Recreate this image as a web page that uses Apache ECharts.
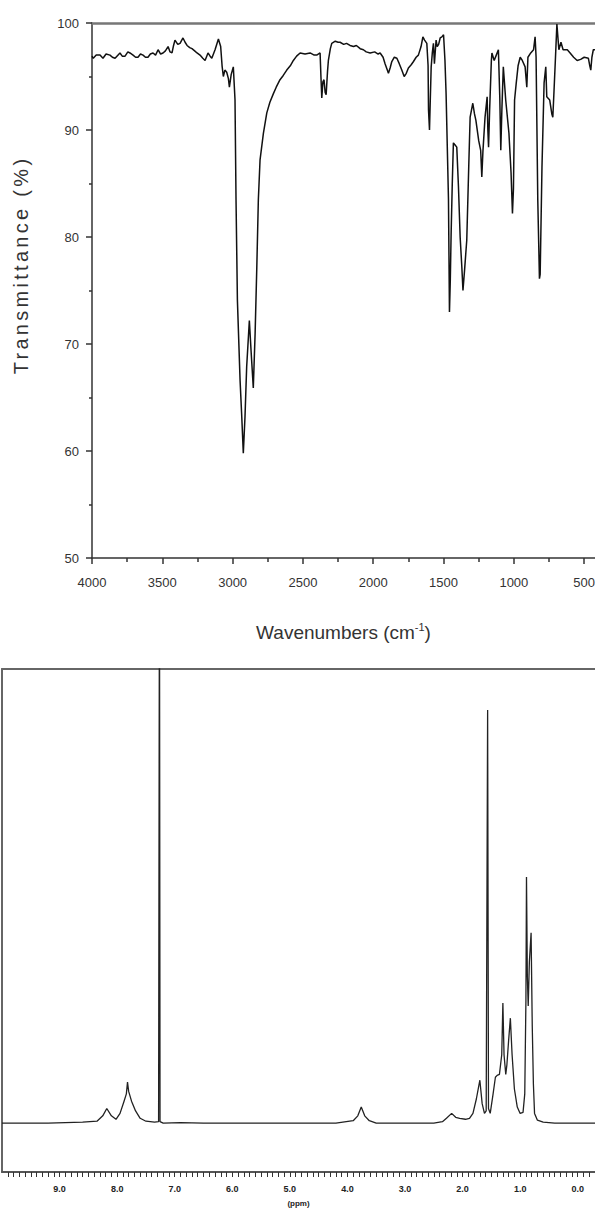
<!DOCTYPE html>
<html>
<head>
<meta charset="utf-8">
<script src="https://cdn.jsdelivr.net/npm/echarts@6/dist/echarts.min.js"></script>
<style>
html,body{margin:0;padding:0;background:#fff;}
#chart{width:595px;height:1210px;}
</style>
</head>
<body>
<div id="chart"></div>
<script>
// ---------- IR spectrum data ----------
const irWavenumbers = [4000,3991,3970,3943,3922,3900,3872,3855,3836,3801,3785,3765,3745,3730,3708,3690,3673,3655,3637,3620,3602,3585,3566,3548,3530,3512,3495,3478,3459,3445,3431,3420,3410,3390,3374,3353,3338,3324,3305,3289,3270,3253,3232,3212,3196,3175,3160,3148,3125,3101,3085,3075,3066,3055,3042,3030,3023,3010,2995,2983,2976,2966,2947,2935,2924,2912,2900,2881,2869,2853,2840,2828,2817,2805,2781,2757,2735,2710,2690,2663,2640,2615,2590,2568,2545,2520,2485,2449,2420,2402,2378,2372,2366,2358,2350,2342,2335,2325,2319,2305,2295,2270,2250,2236,2210,2190,2165,2140,2120,2093,2070,2050,2022,1990,1965,1951,1930,1916,1900,1892,1880,1868,1850,1832,1815,1797,1780,1765,1750,1730,1714,1695,1679,1660,1647,1635,1619,1610,1607,1600,1595,1588,1580,1572,1565,1558,1553,1545,1535,1524,1512,1500,1490,1482,1465,1458,1452,1446,1438,1430,1418,1406,1394,1382,1370,1362,1350,1335,1320,1311,1292,1280,1270,1250,1236,1228,1220,1205,1190,1185,1180,1172,1160,1156,1140,1125,1110,1100,1093,1085,1075,1058,1035,1020,1010,1003,995,983,970,955,940,920,908,900,880,860,849,842,830,818,813,800,785,773,766,745,730,723,715,705,694,680,665,650,620,600,575,550,525,500,470,460,453,445,435,423];
const irTransmittance = [96.9,96.7,97.0,97.0,96.7,97.1,97.0,96.8,96.7,97.2,96.9,96.9,97.3,97.2,97.0,96.8,96.8,97.1,97.0,96.8,96.8,97.1,97.2,97.0,97.5,97.1,97.2,97.4,97.8,97.3,97.2,97.9,98.4,98.0,98.1,98.6,98.2,97.9,97.7,97.6,97.4,97.2,97.0,96.7,96.5,97.2,96.9,96.7,97.5,98.5,97.8,96.0,95.0,95.6,95.4,94.8,94.0,95.2,95.9,92.8,83.7,74.1,66.6,63.2,59.8,63.2,67.9,72.2,69.4,65.9,71.0,77.2,83.5,87.2,89.7,91.6,92.6,93.4,94.0,94.7,95.1,95.6,96.0,96.5,96.9,97.2,97.1,97.2,97.0,97.0,97.2,95.0,93.0,94.5,94.7,93.5,93.3,95.5,96.5,97.6,98.1,98.3,98.2,98.2,98.0,98.1,97.9,97.8,97.9,97.6,97.5,97.3,97.2,97.3,97.1,97.2,96.8,96.2,95.6,95.3,95.8,96.4,96.8,96.7,96.2,95.6,95.0,95.3,95.8,96.1,96.4,96.8,97.0,97.8,98.7,98.4,98.1,96.0,91.9,90.0,92.5,95.9,97.2,98.1,96.2,97.5,98.4,97.8,98.0,98.6,98.7,98.9,96.5,93.4,83.5,73.0,76.0,80.4,85.0,88.8,88.6,88.4,84.7,80.0,77.2,75.0,77.0,79.7,87.0,91.2,92.5,91.5,90.9,89.0,88.1,85.6,88.0,91.2,93.1,90.0,88.4,92.0,96.5,97.2,96.5,97.0,97.5,93.0,88.1,92.0,95.9,92.8,89.7,86.0,82.2,84.5,92.8,94.4,96.0,96.8,96.5,95.9,94.0,96.8,97.2,97.5,98.7,96.8,83.5,76.1,76.5,86.6,94.4,95.9,93.1,92.8,91.5,91.2,93.5,96.5,99.9,97.5,98.2,97.5,97.5,97.2,96.8,96.5,96.6,96.8,96.7,96.0,95.6,96.8,97.5,97.5];
const irMajorTickValues = [4000,3500,3000,2500,2000,1500,1000,500];
const irMinorTickValues = [3750,3250,2750,2250,1750,1250,750];
const irYTitle = 'Transmittance (%)';

// ---------- 1H NMR spectrum data ----------
const nmrPpm = [10.0,9.2,8.6,8.35,8.25,8.18,8.1,8.02,7.95,7.88,7.84,7.82,7.80,7.75,7.68,7.6,7.5,7.35,7.28,7.265,7.255,7.2,6.9,6.5,5.0,4.2,3.9,3.82,3.76,3.70,3.62,3.5,2.5,2.35,2.28,2.19,2.12,2.05,1.95,1.88,1.82,1.76,1.70,1.66,1.62,1.59,1.565,1.55,1.52,1.47,1.43,1.40,1.36,1.32,1.30,1.28,1.25,1.23,1.20,1.17,1.14,1.10,1.05,1.00,0.95,0.92,0.90,0.89,0.875,0.86,0.84,0.81,0.79,0.77,0.75,0.70,0.6,0.4,-0.3];
const nmrIntensity = [0,0,0.2,0.4,1.5,3.0,1.5,0.8,2.0,4.5,6,8.4,6.5,4.5,2.5,1,0.4,0.2,0.3,118,0.3,0,0.1,0,0,0,0.5,1.5,3.3,1.5,0.5,0,0,0.3,1.0,2.0,1.2,1.0,0.8,1.0,2.0,5,8.8,4,2,2.5,84.6,3,2,6,9.4,9.8,10,14,24.6,14,10,12,17,21.5,14,7,3.3,2,2.2,6,25,50.4,30,24,33,39,20,8,2,0.6,0.2,0,0];
const nmrLabelValues = [9,8,7,6,5,4,3,2,1,0];

// ---------- build ----------
const irData = irWavenumbers.map((w, i) => [w, irTransmittance[i]]);
const nmrData = nmrPpm.map((p, i) => [p, nmrIntensity[i]]);
const nmrMinorTicks = [];
for (let k = -2; k <= 99; k++) { nmrMinorTicks.push(k / 10); }

const FONT = "'Liberation Sans',Arial,sans-serif";
const AX = '#333';

const chart = echarts.init(document.getElementById('chart'), null, {renderer: 'svg'});
chart.setOption({
  backgroundColor: '#fff',
  animation: false,
  grid: [
    {left: 92, top: 23, width: 503, height: 535, containLabel: false, outerBoundsMode: 'none'},
    {left: 2, top: 669, width: 593, height: 503, containLabel: false, outerBoundsMode: 'none'}
  ],
  graphic: [
    {
      type: 'text', x: 21, y: 265, rotation: Math.PI / 2,
      style: {text: irYTitle, fontFamily: FONT, fontSize: 20, fill: '#333',
        textAlign: 'center', textVerticalAlign: 'middle'}
    }
  ],
  xAxis: [
    { // IR main axis with labels
      type: 'value', gridIndex: 0, inverse: true, min: 423, max: 4000, position: 'bottom',
      name: 'Wavenumbers (cm{sup|-1})', nameLocation: 'middle', nameGap: 63,
      nameTextStyle: {fontFamily: FONT, fontSize: 19, color: '#333',
        rich: {sup: {fontFamily: FONT, fontSize: 11, color: '#333', padding: [0, 0, 11, 0]}}},
      axisLine: {show: true, onZero: false, lineStyle: {color: AX, width: 1.5}},
      axisTick: {show: true, inside: false, length: 6, customValues: irMajorTickValues, lineStyle: {color: AX, width: 1.5}},
      axisLabel: {show: true, customValues: irMajorTickValues, margin: 18, fontFamily: FONT, fontSize: 13, color: '#333',
        formatter: v => String(Math.round(v))},
      splitLine: {show: false}
    },
    { // IR minor ticks
      type: 'value', gridIndex: 0, inverse: true, min: 423, max: 4000, position: 'bottom',
      axisLine: {show: false, onZero: false},
      axisTick: {show: true, inside: false, length: 4, customValues: irMinorTickValues, lineStyle: {color: AX, width: 1.5}},
      axisLabel: {show: false}, splitLine: {show: false}
    },
    { // IR top frame
      type: 'value', gridIndex: 0, inverse: true, min: 423, max: 4000, position: 'top',
      axisLine: {show: true, onZero: false, lineStyle: {color: '#777', width: 2.5}},
      axisTick: {show: false}, axisLabel: {show: false}, splitLine: {show: false}
    },
    { // NMR bottom axis with labels
      type: 'value', gridIndex: 1, inverse: true, min: -0.3, max: 10, position: 'bottom',
      name: '(ppm)', nameLocation: 'middle', nameGap: 27,
      nameTextStyle: {fontFamily: FONT, fontSize: 8, fontWeight: 'bold', color: '#222'},
      axisLine: {show: true, onZero: false, lineStyle: {color: '#555', width: 2}},
      axisTick: {show: true, inside: false, length: 5, customValues: nmrMinorTicks, lineStyle: {color: '#333', width: 1}},
      axisLabel: {show: true, customValues: nmrLabelValues, margin: 12, fontFamily: FONT, fontSize: 9, fontWeight: 'bold', color: '#222',
        formatter: v => Number(v).toFixed(1)},
      splitLine: {show: false}
    },
    { // NMR top frame
      type: 'value', gridIndex: 1, inverse: true, min: -0.3, max: 10, position: 'top',
      axisLine: {show: true, onZero: false, lineStyle: {color: '#666', width: 2}},
      axisTick: {show: false}, axisLabel: {show: false}, splitLine: {show: false}
    }
  ],
  yAxis: [
    {
      type: 'value', gridIndex: 0, min: 50, max: 100, interval: 10, position: 'left',
      axisLine: {show: true, onZero: false, lineStyle: {color: AX, width: 1.5}},
      axisTick: {show: true, inside: false, length: 6, lineStyle: {color: AX, width: 1.5}},
      minorTick: {show: true, splitNumber: 2, length: 3, lineStyle: {color: AX, width: 1.5}},
      axisLabel: {show: true, margin: 13, fontFamily: FONT, fontSize: 13, color: '#333'},
      splitLine: {show: false}, minorSplitLine: {show: false}
    },
    {
      type: 'value', gridIndex: 1, min: -10, max: 93, position: 'left',
      axisLine: {show: true, onZero: false, lineStyle: {color: '#666', width: 2}},
      axisTick: {show: false}, axisLabel: {show: false}, splitLine: {show: false}
    }
  ],
  series: [
    {
      type: 'line', xAxisIndex: 0, yAxisIndex: 0, data: irData,
      showSymbol: false, symbol: 'none', clip: true,
      lineStyle: {color: '#111', width: 1.5}
    },
    {
      type: 'line', xAxisIndex: 3, yAxisIndex: 1, data: nmrData,
      showSymbol: false, symbol: 'none', clip: true,
      lineStyle: {color: '#222', width: 1.3}
    }
  ]
});

// widen the letter spacing of the y-axis title to match the reference's proportions
function spaceTitle() {
  document.querySelectorAll('#chart svg text').forEach(t => {
    if (t.textContent.indexOf('Transmittance') === 0) {
      t.setAttribute('letter-spacing', '3.3');
      t.style.letterSpacing = '3.3px';
    }
  });
}
spaceTitle();
chart.on('finished', spaceTitle);
setTimeout(spaceTitle, 50);
</script>
</body>
</html>
